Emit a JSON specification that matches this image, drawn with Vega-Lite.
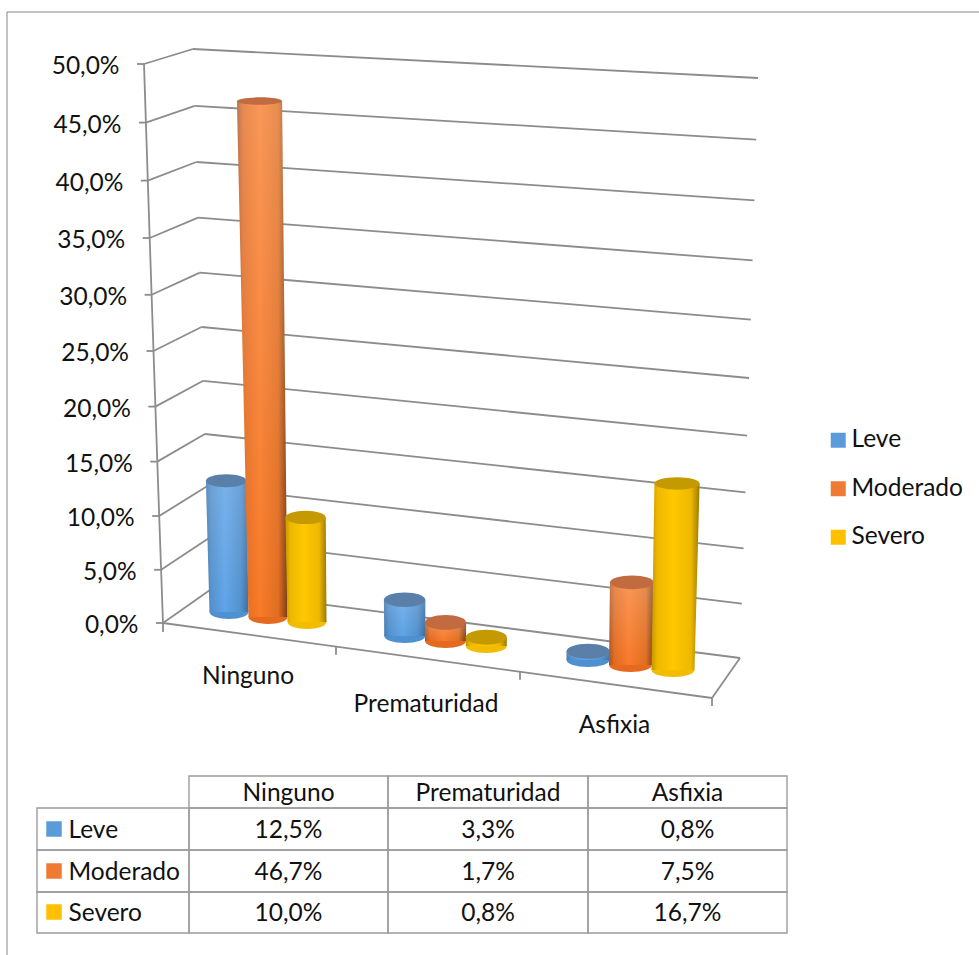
{
"$schema":"https://vega.github.io/schema/vega-lite/v6.json",
"width":972,"height":943,"autosize":"none","padding":{"left":7,"top":12,"right":0,"bottom":0},
"background":"white",
"config":{"view":{"stroke":null},"axis":{"disable":true},"font":"Lato","text":{"font":"Lato","fontSize":24.5,"color":"#111111","dy":1.5}},
"datasets":{
"rows":[
{"category":"Ninguno","severity":"Leve","value":12.5},
{"category":"Prematuridad","severity":"Leve","value":3.3},
{"category":"Asfixia","severity":"Leve","value":0.8},
{"category":"Ninguno","severity":"Moderado","value":46.7},
{"category":"Prematuridad","severity":"Moderado","value":1.7},
{"category":"Asfixia","severity":"Moderado","value":7.5},
{"category":"Ninguno","severity":"Severo","value":10.0},
{"category":"Prematuridad","severity":"Severo","value":0.8},
{"category":"Asfixia","severity":"Severo","value":16.7}],
"levels":[{"level":0},{"level":5},{"level":10},{"level":15},{"level":20},{"level":25},{"level":30},{"level":35},{"level":40},{"level":45},{"level":50}],
"categories":[{"category":"Ninguno"},{"category":"Prematuridad"},{"category":"Asfixia"}],
"severities":[{"severity":"Leve"},{"severity":"Moderado"},{"severity":"Severo"}]
},
"layer":[
{"data":{"values":[{"edge":"left"}]},"mark":{"type":"rule","color":"#868686","strokeWidth":1},"encoding":{"x":{"datum":7,"type":"quantitative","scale":{"domain":[7,979]}}}},
{"data":{"values":[{"edge":"top"}]},"mark":{"type":"rule","color":"#868686","strokeWidth":1},"encoding":{"y":{"datum":12,"type":"quantitative","scale":{"domain":[955,12]}}}},
{"data":{"name":"levels"},
"transform":[
{"calculate":"163-0.38*datum.level","as":"fx"},
{"calculate":"623-datum.level*(10.58+0.012*datum.level)","as":"fy"},
{"calculate":"datum.fx-7","as":"tx"},
{"calculate":"210-0.34*datum.level","as":"bx"},
{"calculate":"590-datum.level*(10.22+0.012*datum.level)","as":"by"},
{"calculate":"740+0.36*datum.level","as":"rx"},
{"calculate":"658-datum.level*(10.8+0.016*datum.level)","as":"ry"},
{"calculate":"datum.fx-24.5","as":"lx"},
{"calculate":"replace(format(datum.level,'.1f'),'.',',')+'%'","as":"label"}],
"layer":[
{"mark":{"type":"rule","color":"#8c8c8c","strokeWidth":1.8},"encoding":{"x":{"field":"bx","type":"quantitative","scale":{"domain":[7,979]}},"y":{"field":"by","type":"quantitative","scale":{"domain":[955,12]}},"x2":{"field":"rx"},"y2":{"field":"ry"}}},
{"mark":{"type":"rule","color":"#8c8c8c","strokeWidth":1.8},"encoding":{"x":{"field":"fx","type":"quantitative","scale":{"domain":[7,979]}},"y":{"field":"fy","type":"quantitative","scale":{"domain":[955,12]}},"x2":{"field":"bx"},"y2":{"field":"by"}}},
{"mark":{"type":"rule","color":"#8c8c8c","strokeWidth":1.8},"encoding":{"x":{"field":"tx","type":"quantitative","scale":{"domain":[7,979]}},"y":{"field":"fy","type":"quantitative","scale":{"domain":[955,12]}},"x2":{"field":"fx"}}},
{"mark":{"type":"line","color":"#8c8c8c","strokeWidth":1.8},"encoding":{"x":{"field":"fx","type":"quantitative","scale":{"domain":[7,979]}},"y":{"field":"fy","type":"quantitative","scale":{"domain":[955,12]}},"order":{"field":"level"}}},
{"mark":{"type":"text","align":"right","baseline":"middle","dy":3},"encoding":{"x":{"field":"lx","type":"quantitative","scale":{"domain":[7,979]}},"y":{"field":"fy","type":"quantitative","scale":{"domain":[955,12]}},"text":{"field":"label"}}},
{"transform":[{"filter":"datum.level==0"},{"calculate":"712","as":"ex"},{"calculate":"698","as":"ey"},{"calculate":"632","as":"ty"}],
"layer":[
{"mark":{"type":"rule","color":"#8c8c8c","strokeWidth":1.8},"encoding":{"x":{"field":"fx","type":"quantitative","scale":{"domain":[7,979]}},"y":{"field":"fy","type":"quantitative","scale":{"domain":[955,12]}},"x2":{"field":"ex"},"y2":{"field":"ey"}}},
{"mark":{"type":"rule","color":"#8c8c8c","strokeWidth":1.8},"encoding":{"x":{"field":"ex","type":"quantitative","scale":{"domain":[7,979]}},"y":{"field":"ey","type":"quantitative","scale":{"domain":[955,12]}},"x2":{"field":"rx"},"y2":{"field":"ry"}}},
{"mark":{"type":"rule","color":"#8c8c8c","strokeWidth":1.8},"encoding":{"x":{"field":"fx","type":"quantitative","scale":{"domain":[7,979]}},"y":{"field":"fy","type":"quantitative","scale":{"domain":[955,12]}},"y2":{"field":"ty"}}}
]}
]},
{"data":{"name":"categories"},
"transform":[
{"calculate":"indexof(['Ninguno','Prematuridad','Asfixia'],datum.category)","as":"c"},
{"calculate":"[336,520,712][datum.c]","as":"tx"},
{"calculate":"623+0.1366*(datum.tx-163)","as":"ty"},
{"calculate":"datum.ty+8","as":"ty2"},
{"calculate":"[248,426,614.5][datum.c]","as":"lx"},
{"calculate":"[675,703,724][datum.c]","as":"ly"},
{"calculate":"[288.5,488,687.5][datum.c]","as":"hx"},
{"calculate":"[189,388,588][datum.c]","as":"hx1"},
{"calculate":"[388,588,787][datum.c]","as":"hx2"},
{"calculate":"776","as":"hy1"},
{"calculate":"808","as":"hy2"},
{"calculate":"792","as":"hy"}],
"layer":[
{"mark":{"type":"rule","color":"#8c8c8c","strokeWidth":1.8},"encoding":{"x":{"field":"tx","type":"quantitative","scale":{"domain":[7,979]}},"y":{"field":"ty","type":"quantitative","scale":{"domain":[955,12]}},"y2":{"field":"ty2"}}},
{"mark":{"type":"text","align":"center","baseline":"middle"},"encoding":{"x":{"field":"lx","type":"quantitative","scale":{"domain":[7,979]}},"y":{"field":"ly","type":"quantitative","scale":{"domain":[955,12]}},"text":{"field":"category"}}},
{"mark":{"type":"rect","fill":"transparent","stroke":"#9c9c9c","strokeWidth":1.4},"encoding":{"x":{"field":"hx1","type":"quantitative","scale":{"domain":[7,979]}},"x2":{"field":"hx2"},"y":{"field":"hy1","type":"quantitative","scale":{"domain":[955,12]}},"y2":{"field":"hy2"}}},
{"mark":{"type":"text","align":"center","baseline":"middle"},"encoding":{"x":{"field":"hx","type":"quantitative","scale":{"domain":[7,979]}},"y":{"field":"hy","type":"quantitative","scale":{"domain":[955,12]}},"text":{"field":"category"}}}
]},
{"data":{"name":"rows"},
"transform":[
{"calculate":"indexof(['Ninguno','Prematuridad','Asfixia'],datum.category)","as":"c"},
{"calculate":"indexof(['Leve','Moderado','Severo'],datum.severity)","as":"r"},
{"calculate":"datum.r-1","as":"s"},
{"calculate":"[268,445.5,630.5][datum.c]+datum.s*(39+1.75*datum.c)","as":"xBase"},
{"calculate":"19.5+datum.c","as":"hwBase"},
{"calculate":"624+5*datum.s+24*datum.c-7","as":"pyBase"},
{"calculate":"datum.pyBase-datum.value*(10.3+0.016*datum.value+0.6*min(datum.c,1))","as":"pyTop"},
{"calculate":"datum.xBase+(datum.xBase-442.5)*datum.value*0.001043","as":"xTop"},
{"calculate":"datum.hwBase+0.065*datum.value","as":"hwTop"},
{"calculate":"(7.5-0.08*datum.value)/datum.hwTop","as":"ratioTop"},
{"calculate":"7/datum.hwBase","as":"ratioBase"},
{"calculate":"'M-1,0A1,'+datum.ratioTop+' 0 1 1 1,0A1,'+datum.ratioTop+' 0 1 1 -1,0Z'","as":"shapeTop"},
{"calculate":"'M-1,0A1,'+datum.ratioBase+' 0 1 1 1,0A1,'+datum.ratioBase+' 0 1 1 -1,0Z'","as":"shapeBase"},
{"calculate":"pow(2*datum.hwTop,2)","as":"sizeTop"},
{"calculate":"pow(2*datum.hwBase,2)","as":"sizeBase"},
{"calculate":"datum.xTop-datum.hwTop","as":"xTopL"},
{"calculate":"datum.xTop+datum.hwTop","as":"xTopR"},
{"calculate":"datum.xBase-datum.hwBase","as":"xBaseL"},
{"calculate":"datum.xBase+datum.hwBase","as":"xBaseR"},
{"calculate":"[189,388,588][datum.c]","as":"cx1"},
{"calculate":"[388,588,787][datum.c]","as":"cx2"},
{"calculate":"[288.5,488,687.5][datum.c]","as":"cx"},
{"calculate":"[808,850,892][datum.r]","as":"cy1"},
{"calculate":"[850,892,933][datum.r]","as":"cy2"},
{"calculate":"[829,871,912][datum.r]","as":"cy"},
{"calculate":"replace(format(datum.value,'.1f'),'.',',')+'%'","as":"label"}],
"layer":[
{"transform":[{"filter":"datum.severity=='Leve'"}],"layer":[
{"mark":{"type":"point","filled":true,"opacity":1,"strokeWidth":0,"color":"#4f90d0"},"encoding":{"x":{"field":"xBase","type":"quantitative","scale":{"domain":[7,979]}},"y":{"field":"pyBase","type":"quantitative","scale":{"domain":[955,12]}},"shape":{"field":"shapeBase","type":"nominal","scale":null},"size":{"field":"sizeBase","type":"quantitative","scale":null}}},
{"transform":[{"fold":["pyTop","pyBase"]},{"calculate":"datum.key=='pyTop'?datum.xTopL:datum.xBaseL","as":"xl"},{"calculate":"datum.key=='pyTop'?datum.xTopR:datum.xBaseR","as":"xr"}],
"layer":[
{"mark":{"type":"area","orient":"horizontal","color":{"gradient":"linear","x1":0,"y1":0,"x2":1,"y2":0,"stops":[{"offset":0,"color":"#4478ae"},{"offset":0.12,"color":"#5290cc"},{"offset":0.45,"color":"#5fa4e8"},{"offset":0.82,"color":"#5290cc"},{"offset":1,"color":"#3a6fa5"}]}},
"encoding":{"x":{"field":"xl","type":"quantitative","stack":null,"scale":{"domain":[7,979]}},"x2":{"field":"xr"},"y":{"field":"value","type":"quantitative","scale":{"domain":[955,12]}},"detail":{"field":"category"}}},
{"mark":{"type":"area","orient":"horizontal","color":{"gradient":"linear","x1":0,"y1":0,"x2":0,"y2":1,"stops":[{"offset":0,"color":"rgba(255,255,255,0.16)"},{"offset":1,"color":"rgba(255,255,255,0)"}]}},
"encoding":{"x":{"field":"xl","type":"quantitative","stack":null,"scale":{"domain":[7,979]}},"x2":{"field":"xr"},"y":{"field":"value","type":"quantitative","scale":{"domain":[955,12]}},"detail":{"field":"category"}}}
]},
{"mark":{"type":"point","filled":true,"opacity":1,"strokeWidth":0,"color":"#5a80aa"},"encoding":{"x":{"field":"xTop","type":"quantitative","scale":{"domain":[7,979]}},"y":{"field":"pyTop","type":"quantitative","scale":{"domain":[955,12]}},"shape":{"field":"shapeTop","type":"nominal","scale":null},"size":{"field":"sizeTop","type":"quantitative","scale":null}}}
]},
{"transform":[{"filter":"datum.severity=='Moderado'"}],"layer":[
{"mark":{"type":"point","filled":true,"opacity":1,"strokeWidth":0,"color":"#e56a1f"},"encoding":{"x":{"field":"xBase","type":"quantitative","scale":{"domain":[7,979]}},"y":{"field":"pyBase","type":"quantitative","scale":{"domain":[955,12]}},"shape":{"field":"shapeBase","type":"nominal","scale":null},"size":{"field":"sizeBase","type":"quantitative","scale":null}}},
{"transform":[{"fold":["pyTop","pyBase"]},{"calculate":"datum.key=='pyTop'?datum.xTopL:datum.xBaseL","as":"xl"},{"calculate":"datum.key=='pyTop'?datum.xTopR:datum.xBaseR","as":"xr"}],
"layer":[
{"mark":{"type":"area","orient":"horizontal","color":{"gradient":"linear","x1":0,"y1":0,"x2":1,"y2":0,"stops":[{"offset":0,"color":"#a85020"},{"offset":0.12,"color":"#e06a20"},{"offset":0.45,"color":"#f97a28"},{"offset":0.82,"color":"#e06d20"},{"offset":1,"color":"#7a3e18"}]}},
"encoding":{"x":{"field":"xl","type":"quantitative","stack":null,"scale":{"domain":[7,979]}},"x2":{"field":"xr"},"y":{"field":"value","type":"quantitative","scale":{"domain":[955,12]}},"detail":{"field":"category"}}},
{"mark":{"type":"area","orient":"horizontal","color":{"gradient":"linear","x1":0,"y1":0,"x2":0,"y2":1,"stops":[{"offset":0,"color":"rgba(255,255,255,0.22)"},{"offset":1,"color":"rgba(255,255,255,0)"}]}},
"encoding":{"x":{"field":"xl","type":"quantitative","stack":null,"scale":{"domain":[7,979]}},"x2":{"field":"xr"},"y":{"field":"value","type":"quantitative","scale":{"domain":[955,12]}},"detail":{"field":"category"}}}
]},
{"mark":{"type":"point","filled":true,"opacity":1,"strokeWidth":0,"color":"#c26a40"},"encoding":{"x":{"field":"xTop","type":"quantitative","scale":{"domain":[7,979]}},"y":{"field":"pyTop","type":"quantitative","scale":{"domain":[955,12]}},"shape":{"field":"shapeTop","type":"nominal","scale":null},"size":{"field":"sizeTop","type":"quantitative","scale":null}}}
]},
{"transform":[{"filter":"datum.severity=='Severo'"}],"layer":[
{"mark":{"type":"point","filled":true,"opacity":1,"strokeWidth":0,"color":"#f2bc00"},"encoding":{"x":{"field":"xBase","type":"quantitative","scale":{"domain":[7,979]}},"y":{"field":"pyBase","type":"quantitative","scale":{"domain":[955,12]}},"shape":{"field":"shapeBase","type":"nominal","scale":null},"size":{"field":"sizeBase","type":"quantitative","scale":null}}},
{"transform":[{"fold":["pyTop","pyBase"]},{"calculate":"datum.key=='pyTop'?datum.xTopL:datum.xBaseL","as":"xl"},{"calculate":"datum.key=='pyTop'?datum.xTopR:datum.xBaseR","as":"xr"}],
"mark":{"type":"area","orient":"horizontal","color":{"gradient":"linear","x1":0,"y1":0,"x2":1,"y2":0,"stops":[{"offset":0,"color":"#c29600"},{"offset":0.12,"color":"#eeb800"},{"offset":0.45,"color":"#ffc800"},{"offset":0.82,"color":"#eeb800"},{"offset":1,"color":"#9a7a00"}]}},
"encoding":{"x":{"field":"xl","type":"quantitative","stack":null,"scale":{"domain":[7,979]}},"x2":{"field":"xr"},"y":{"field":"value","type":"quantitative","scale":{"domain":[955,12]}},"detail":{"field":"category"}}},
{"mark":{"type":"point","filled":true,"opacity":1,"strokeWidth":0,"color":"#c49a00"},"encoding":{"x":{"field":"xTop","type":"quantitative","scale":{"domain":[7,979]}},"y":{"field":"pyTop","type":"quantitative","scale":{"domain":[955,12]}},"shape":{"field":"shapeTop","type":"nominal","scale":null},"size":{"field":"sizeTop","type":"quantitative","scale":null}}}
]},
{"mark":{"type":"rect","fill":"transparent","stroke":"#9c9c9c","strokeWidth":1.4},"encoding":{"x":{"field":"cx1","type":"quantitative","scale":{"domain":[7,979]}},"x2":{"field":"cx2"},"y":{"field":"cy1","type":"quantitative","scale":{"domain":[955,12]}},"y2":{"field":"cy2"}}},
{"mark":{"type":"text","align":"center","baseline":"middle"},"encoding":{"x":{"field":"cx","type":"quantitative","scale":{"domain":[7,979]}},"y":{"field":"cy","type":"quantitative","scale":{"domain":[955,12]}},"text":{"field":"label"}}}
]},
{"data":{"name":"severities"},
"transform":[
{"calculate":"indexof(['Leve','Moderado','Severo'],datum.severity)","as":"r"},
{"calculate":"37","as":"hx1"},
{"calculate":"189","as":"hx2"},
{"calculate":"[808,850,892][datum.r]","as":"cy1"},
{"calculate":"[850,892,933][datum.r]","as":"cy2"},
{"calculate":"[829,871,912][datum.r]","as":"cy"},
{"calculate":"54","as":"sx"},
{"calculate":"68.5","as":"tx"}],
"layer":[
{"mark":{"type":"rect","fill":"transparent","stroke":"#9c9c9c","strokeWidth":1.4},"encoding":{"x":{"field":"hx1","type":"quantitative","scale":{"domain":[7,979]}},"x2":{"field":"hx2"},"y":{"field":"cy1","type":"quantitative","scale":{"domain":[955,12]}},"y2":{"field":"cy2"}}},
{"mark":{"type":"point","filled":true,"opacity":1,"strokeWidth":0,"shape":"square","size":240},"encoding":{"x":{"field":"sx","type":"quantitative","scale":{"domain":[7,979]}},"y":{"field":"cy","type":"quantitative","scale":{"domain":[955,12]}},
"color":{"field":"severity","type":"nominal","scale":{"domain":["Leve","Moderado","Severo"],"range":["#5b9bd9","#ee7a33","#ffc000"]},
"legend":{"title":null,"orient":"none","legendX":819,"legendY":416,"symbolType":"square","symbolSize":225,"symbolStrokeWidth":0,"symbolOpacity":1,"labelFont":"Lato","labelFontSize":24.5,"labelColor":"#111111","rowPadding":23.5,"labelOffset":1}}}},
{"mark":{"type":"text","align":"left","baseline":"middle"},"encoding":{"x":{"field":"tx","type":"quantitative","scale":{"domain":[7,979]}},"y":{"field":"cy","type":"quantitative","scale":{"domain":[955,12]}},"text":{"field":"severity"}}}
]}
]}
